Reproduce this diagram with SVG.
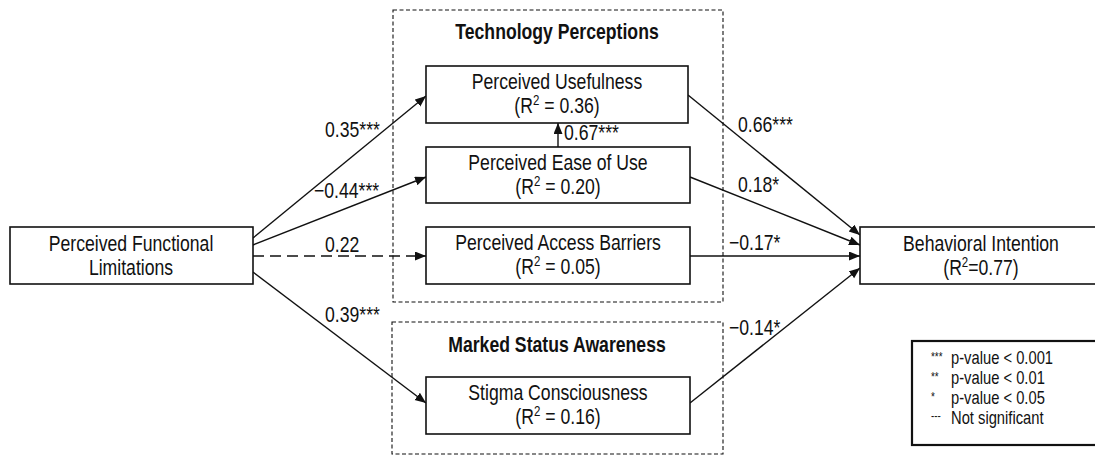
<svg xmlns="http://www.w3.org/2000/svg" width="1095" height="456" viewBox="0 0 1095 456">
  <style>
    text { font-family: "Liberation Sans Narrow", "Arial Narrow", "Liberation Sans", Arial, sans-serif; fill: #111; }
    .lbl { font-size: 21.5px; }
    .node { font-size: 21.5px; text-anchor: middle; }
    .title { font-size: 21.5px; font-weight: bold; text-anchor: middle; }
    .sup { font-size: 14px; }
    .box { fill: #fff; stroke: #111; stroke-width: 1.6; }
    .group { fill: none; stroke: #111; stroke-width: 1.1; stroke-dasharray: 4 2.5; }
    .edge { fill: none; stroke: #111; stroke-width: 1.4; marker-end: url(#arrow); }
    .ns { stroke-dasharray: 11 6; }
    .leg { font-size: 18px; }
    .legsym { font-size: 12px; }
  </style>
  <defs>
    <marker id="arrow" markerUnits="userSpaceOnUse" markerWidth="12" markerHeight="10" refX="11" refY="4.5" orient="auto">
      <path d="M0,0 L11,4.5 L0,9 z" fill="#111"/>
    </marker>
  </defs>

  <!-- construct groupings (texts are narrowed horizontally with scale(0.82,1)) -->
  <g id="group-technology-perceptions">
    <rect class="group" x="393" y="10" width="330" height="292"/>
    <text class="title" transform="translate(557,39) scale(0.82,1)">Technology Perceptions</text>
  </g>
  <g id="group-marked-status">
    <rect class="group" x="392" y="322" width="331" height="132"/>
    <text class="title" transform="translate(557,352) scale(0.82,1)">Marked Status Awareness</text>
  </g>

  <!-- paths -->
  <g id="connectors">
    <line class="edge" x1="253" y1="238" x2="426" y2="96"/>
    <line class="edge" x1="253" y1="245" x2="426" y2="177"/>
    <line class="edge ns" x1="253" y1="256" x2="426" y2="256"/>
    <line class="edge" x1="253" y1="272" x2="426" y2="403"/>
    <line class="edge" x1="558" y1="147" x2="558" y2="123"/>
    <line class="edge" x1="688" y1="95" x2="860" y2="235"/>
    <line class="edge" x1="690" y1="177" x2="860" y2="245"/>
    <line class="edge" x1="690" y1="256" x2="860" y2="256"/>
    <line class="edge" x1="690" y1="403" x2="860" y2="268"/>
  </g>

  <!-- path coefficients -->
  <g id="coefficients">
    <text class="lbl" transform="translate(325,137) scale(0.82,1)">0.35***</text>
    <text class="lbl" transform="translate(314,198) scale(0.82,1)">−0.44***</text>
    <text class="lbl" transform="translate(325,252) scale(0.82,1)">0.22</text>
    <text class="lbl" transform="translate(325,322) scale(0.82,1)">0.39***</text>
    <text class="lbl" transform="translate(564,140) scale(0.82,1)">0.67***</text>
    <text class="lbl" transform="translate(738,132) scale(0.82,1)">0.66***</text>
    <text class="lbl" transform="translate(738,192) scale(0.82,1)">0.18*</text>
    <text class="lbl" transform="translate(729,250) scale(0.82,1)">−0.17*</text>
    <text class="lbl" transform="translate(729,335) scale(0.82,1)">−0.14*</text>
  </g>

  <g id="node-pfl">
    <rect class="box" x="10" y="227" width="243" height="57"/>
    <text class="node" transform="translate(131,251) scale(0.82,1)">Perceived Functional</text>
    <text class="node" transform="translate(131,275) scale(0.82,1)">Limitations</text>
  </g>
  <g id="node-pu">
    <rect class="box" x="426" y="66" width="262" height="57"/>
    <text class="node" transform="translate(557,89) scale(0.82,1)">Perceived Usefulness</text>
    <text class="node" transform="translate(557,113) scale(0.82,1)">(R<tspan class="sup" dy="-8">2</tspan><tspan dy="8"> = 0.36)</tspan></text>
  </g>
  <g id="node-peou">
    <rect class="box" x="426" y="147" width="264" height="56"/>
    <text class="node" transform="translate(558,170) scale(0.82,1)">Perceived Ease of Use</text>
    <text class="node" transform="translate(558,194) scale(0.82,1)">(R<tspan class="sup" dy="-8">2</tspan><tspan dy="8"> = 0.20)</tspan></text>
  </g>
  <g id="node-pab">
    <rect class="box" x="426" y="227" width="264" height="57"/>
    <text class="node" transform="translate(558,250) scale(0.82,1)">Perceived Access Barriers</text>
    <text class="node" transform="translate(558,274) scale(0.82,1)">(R<tspan class="sup" dy="-8">2</tspan><tspan dy="8"> = 0.05)</tspan></text>
  </g>
  <g id="node-sc">
    <rect class="box" x="426" y="377" width="264" height="57"/>
    <text class="node" transform="translate(558,400) scale(0.82,1)">Stigma Consciousness</text>
    <text class="node" transform="translate(558,424) scale(0.82,1)">(R<tspan class="sup" dy="-8">2</tspan><tspan dy="8"> = 0.16)</tspan></text>
  </g>
  <g id="node-bi">
    <rect class="box" x="860" y="227" width="245" height="57"/>
    <text class="node" transform="translate(981,251) scale(0.82,1)">Behavioral Intention</text>
    <text class="node" transform="translate(981,275) scale(0.82,1)">(R<tspan class="sup" dy="-8">2</tspan><tspan dy="8">=0.77)</tspan></text>
  </g>

  <!-- significance key: symbol column at x=0, description column at x=24.4 (local units) -->
  <g id="legend">
    <rect x="912" y="341" width="200" height="104" fill="#fff" stroke="#111" stroke-width="2.2"/>
    <text class="leg" transform="translate(931,0) scale(0.82,1)"><tspan class="legsym" x="0" y="361">***</tspan><tspan x="24.4" y="364">p-value &lt; 0.001</tspan><tspan class="legsym" x="0" y="381">**</tspan><tspan x="24.4" y="384">p-value &lt; 0.01</tspan><tspan class="legsym" x="0" y="401">*</tspan><tspan x="24.4" y="404">p-value &lt; 0.05</tspan><tspan class="legsym" x="0" y="420">---</tspan><tspan x="24.4" y="424">Not significant</tspan></text>
  </g>
</svg>
